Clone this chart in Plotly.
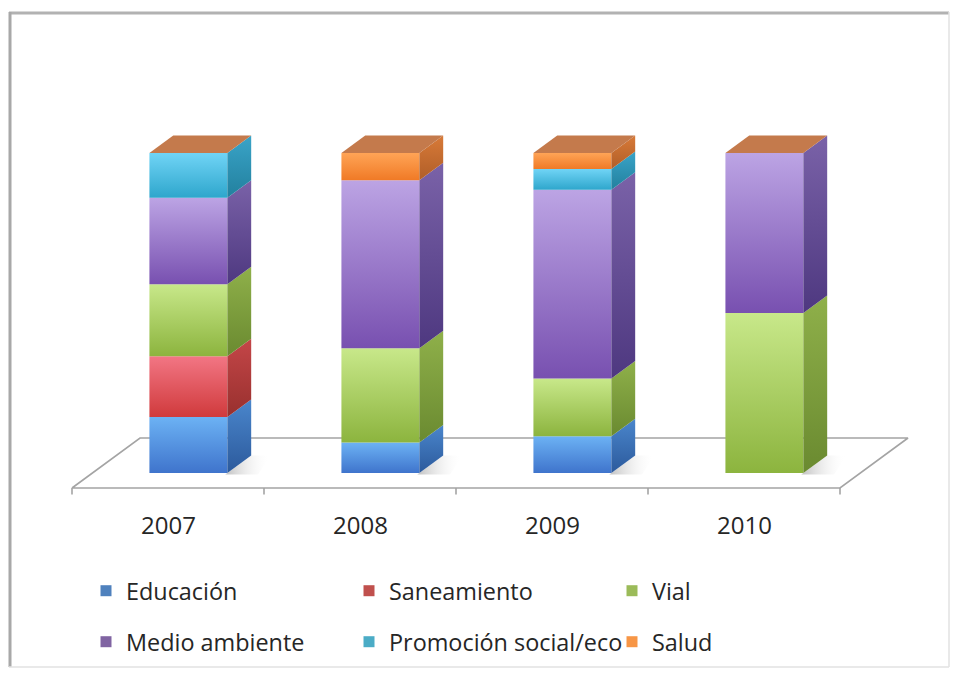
import plotly.graph_objects as go

# ---- data (percent share of each program area per year) ----
years = ["2007", "2008", "2009", "2010"]
educacion = [17.5, 9.5, 11.5, 0]
saneamiento = [19, 0, 0, 0]
vial = [22.5, 29.5, 18, 50]
medio_ambiente = [27, 52.5, 59, 50]
promocion_social = [14, 0, 6.5, 0]
salud = [0, 8.5, 5, 0]

series_names = ["Educación", "Saneamiento", "Vial",
                "Medio ambiente", "Promoción social/eco", "Salud"]
series_values = [educacion, saneamiento, vial,
                 medio_ambiente, promocion_social, salud]

# ---- styling ----
FONT = "Open Sans"
TEXT_COLOR = "#262626"
STYLE = {
    "Educación":            dict(light="#6cb2f4", dark="#3f74cc", side_l="#4a86cc", side_d="#2c5a9c", key="#4F81BD"),
    "Saneamiento":          dict(light="#f27684", dark="#d03a3c", side_l="#c44648", side_d="#98302e", key="#C0504D"),
    "Vial":                 dict(light="#c8e88a", dark="#8cb43e", side_l="#8fb04a", side_d="#6a8a30", key="#9BBB59"),
    "Medio ambiente":       dict(light="#bca4e4", dark="#7850b0", side_l="#7a62a8", side_d="#4e3880", key="#8064A2"),
    "Promoción social/eco": dict(light="#70d4f6", dark="#2ea6cc", side_l="#3aa4c8", side_d="#22809e", key="#4BACC6"),
    "Salud":                dict(light="#ffa456", dark="#f07a26", side_l="#d87a38", side_d="#b05e28", key="#F79646",
                                 top="#c47a4c"),
}
FLOOR_LINE = "#a4a4a4"

# ---- oblique projection (x: category units, y: percent units) ----
DEPTH_DX = 68 / 192       # horizontal shift per unit of depth
DEPTH_DY = 50 / 3.2       # vertical shift per unit of depth
BAR_HALF = 0.203          # half width of a column's front face
BAR_D0, BAR_D1 = 0.30, 0.65
X_RANGE = [-168 / 192, (956 - 168) / 192]
Y_RANGE = [(488 - 675) / 3.2, 488 / 3.2]


def proj(x, h, d):
    return x + d * DEPTH_DX, h + d * DEPTH_DY


def poly(points, **kw):
    xs, ys = zip(*[proj(*p) for p in points])
    return go.Scatter(x=list(xs) + [xs[0]], y=list(ys) + [ys[0]], mode="lines",
                      fill="toself", hoverinfo="skip", showlegend=False, **kw)


fig = go.Figure()
n = len(years)
x_lo, x_hi = -0.5, n - 0.5

# floor
fig.add_trace(poly([(x_lo, 0, 0), (x_hi, 0, 0), (x_hi, 0, 1), (x_lo, 0, 1)],
                   fillcolor="white", line=dict(color=FLOOR_LINE, width=1.6)))

# category tick marks on the floor's front edge
tx, ty = [], []
for k in range(n + 1):
    tx += [x_lo + k, x_lo + k, None]
    ty += [0, -2.0, None]
fig.add_trace(go.Scatter(x=tx, y=ty, mode="lines", line=dict(color=FLOOR_LINE, width=1.6),
                         hoverinfo="skip", showlegend=False))

# columns
for i in range(n):
    xl, xr = i - BAR_HALF, i + BAR_HALF
    # soft floor shadow at the right of the column
    fig.add_trace(poly([(xr, 0, BAR_D0 - 0.03), (xr + 0.17, 0, BAR_D0 - 0.03),
                        (xr + 0.10, 0, BAR_D1), (xr, 0, BAR_D1)],
                       line=dict(width=0),
                       fillgradient=dict(type="horizontal",
                                         colorscale=[[0, "rgba(140,140,140,0.55)"],
                                                     [1, "rgba(255,255,255,0)"]])))
    base = 0.0
    for name, vals in zip(series_names, series_values):
        v = vals[i]
        if v <= 0:
            continue
        st = STYLE[name]
        h0, h1 = base, base + v
        # front face
        fig.add_trace(poly([(xl, h0, BAR_D0), (xr, h0, BAR_D0), (xr, h1, BAR_D0), (xl, h1, BAR_D0)],
                           line=dict(width=0),
                           fillgradient=dict(type="vertical",
                                             colorscale=[[0, st["dark"]], [1, st["light"]]])))
        # right side face
        fig.add_trace(poly([(xr, h0, BAR_D0), (xr, h1, BAR_D0), (xr, h1, BAR_D1), (xr, h0, BAR_D1)],
                           line=dict(width=0),
                           fillgradient=dict(type="vertical",
                                             colorscale=[[0, st["side_d"]], [1, st["side_l"]]])))
        base = h1
    # cap of the stack takes the colour of the last series
    fig.add_trace(poly([(xl, base, BAR_D0), (xr, base, BAR_D0), (xr, base, BAR_D1), (xl, base, BAR_D1)],
                       line=dict(width=0), fillcolor=STYLE[series_names[-1]]["top"]))

# legend keys (two rows)
for k, name in enumerate(series_names):
    fig.add_trace(go.Scatter(x=[None], y=[None], mode="markers", name=name,
                             marker=dict(symbol="square", size=11, color=STYLE[name]["key"]),
                             legend="legend" if k < 3 else "legend2"))

# category labels
for i, yr in enumerate(years):
    fig.add_annotation(x=i, y=-11.25, text=yr, showarrow=False, xanchor="center", yanchor="middle",
                       font=dict(family=FONT, size=24, color=TEXT_COLOR))

W, H = 956, 675
leg_common = dict(orientation="h", xanchor="left", yanchor="middle", x=86 / W,
                  entrywidth=218, entrywidthmode="pixels", bgcolor="rgba(0,0,0,0)",
                  font=dict(family=FONT, size=23.4, color=TEXT_COLOR),
                  itemclick=False, itemdoubleclick=False, traceorder="normal")

# chart frame
frame = [
    dict(x0=9 / W, x1=949 / W, y0=1 - 13 / H, y1=1 - 13 / H, color="#b2b2b2", width=3),
    dict(x0=10 / W, x1=10 / W, y0=1 - 12 / H, y1=1 - 667 / H, color="#a8a8a8", width=3),
    dict(x0=949 / W, x1=949 / W, y0=1 - 12 / H, y1=1 - 667 / H, color="#e2e2e2", width=1.5),
    dict(x0=9 / W, x1=949 / W, y0=1 - 667 / H, y1=1 - 667 / H, color="#e2e2e2", width=1.5),
]
shapes = [dict(type="line", xref="paper", yref="paper", x0=f["x0"], x1=f["x1"], y0=f["y0"], y1=f["y1"],
               line=dict(color=f["color"], width=f["width"])) for f in frame]

fig.update_layout(
    width=W, height=H, autosize=False,
    margin=dict(l=0, r=0, t=0, b=0),
    paper_bgcolor="white", plot_bgcolor="white",
    xaxis=dict(range=X_RANGE, visible=False, fixedrange=True),
    yaxis=dict(range=Y_RANGE, visible=False, fixedrange=True),
    legend=dict(leg_common, y=1 - 591 / H),
    legend2=dict(leg_common, y=1 - 642 / H),
    shapes=shapes,
    font=dict(family=FONT, color=TEXT_COLOR),
)

fig.write_html("out.html")
